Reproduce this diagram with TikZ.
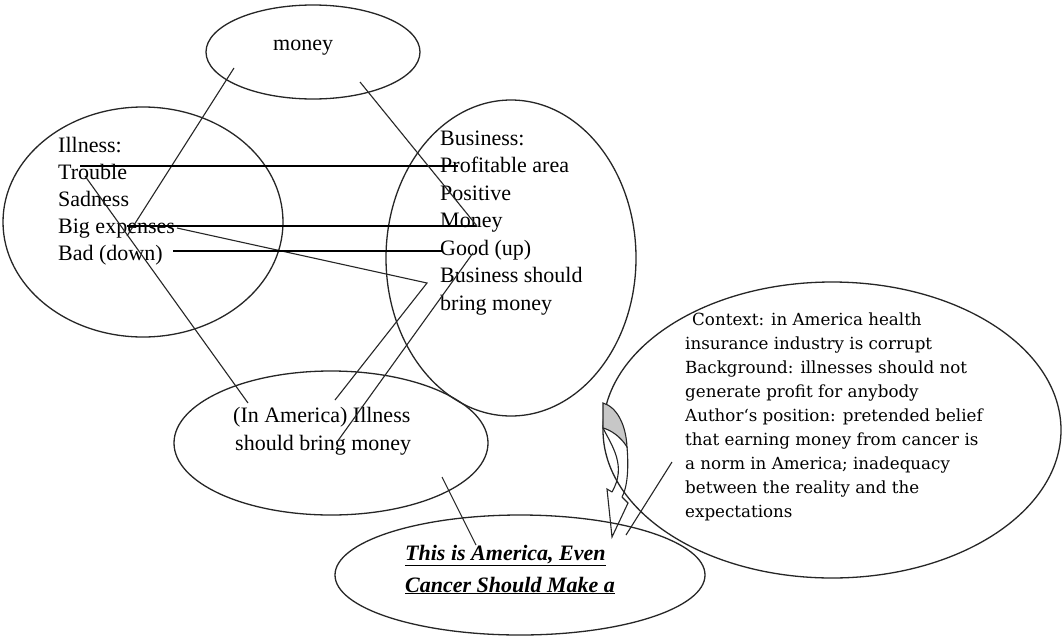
\documentclass[tikz,border=0pt]{standalone}
\usepackage{fontspec}
\setmainfont{Liberation Serif}
\newfontfamily\ctxfont{DejaVu Serif}
\usetikzlibrary{shapes.geometric}
\tikzset{
  oval/.style={ellipse, draw=black!85, line width=1.3pt, inner sep=0pt},
  link/.style={draw=black!85, line width=1.1pt},
  hline/.style={draw=black, line width=1.5pt},
  txt/.style={anchor=base west, inner sep=0pt, font=\fontsize{22}{27}\selectfont, text=black},
  ctx/.style={anchor=base west, inner sep=0pt, font=\ctxfont\fontsize{16.7}{24}\selectfont, text=black},
  ttl/.style={anchor=base west, inner sep=0pt, font=\fontsize{22}{27}\selectfont\bfseries\itshape, text=black},
  shade/.style={draw=black!85, line width=1.1pt, fill=black!22},
}
\begin{document}
\begin{tikzpicture}[x=1pt,y=-1pt]
\path[fill=white] (0,0) rectangle (1064,640);
\useasboundingbox (0,0) rectangle (1064,640);

% ovals
\node[oval, minimum width=214pt, minimum height=94pt] (moneyE) at (313,52) {};
\node[oval, minimum width=280pt, minimum height=230pt] (illE) at (143,222) {};
\node[oval, minimum width=250pt, minimum height=316pt] (busE) at (511,258) {};
\node[oval, minimum width=458pt, minimum height=296pt] (ctxE) at (832,430) {};
\node[oval, minimum width=314pt, minimum height=144pt] (amE) at (331,443) {};
\node[oval, minimum width=370pt, minimum height=120pt] (titleE) at (520,575) {};

% texts
\node[txt] (moneyT) at (273,50) {money};

\node[txt] (il1) at (58,152) {Illness:};
\node[txt] (il2) at (58,179) {Trouble};
\node[txt] (il3) at (58,206) {Sadness};
\node[txt] (il4) at (58,233) {Big expenses};
\node[txt] (il5) at (58,260) {Bad (down)};

\node[txt] (bu1) at (440,145) {Business:};
\node[txt] (bu2) at (440,172) {Profitable area};
\node[txt] (bu3) at (440,200) {Positive};
\node[txt] (bu4) at (440,227) {Money};
\node[txt] (bu5) at (440,255) {Good (up)};
\node[txt] (bu6) at (440,282) {Business should};
\node[txt] (bu7) at (440,310) {bring money};

\node[txt] (am1) at (233,422) {(In America) Illness};
\node[txt] (am2) at (235,450) {should bring money};

\node[ctx] (ct1) at (692,325) {Context: in America health};
\node[ctx] (ct2) at (685,349) {insurance industry is corrupt};
\node[ctx] (ct3) at (685,373) {Background: illnesses should not};
\node[ctx] (ct4) at (685,397) {generate profit for anybody};
\node[ctx] (ct5) at (685,421) {Author\textquoteleft s position: pretended belief};
\node[ctx] (ct6) at (685,445) {that earning money from cancer is};
\node[ctx] (ct7) at (685,469) {a norm in America; inadequacy};
\node[ctx] (ct8) at (685,493) {between the reality and the};
\node[ctx] (ct9) at (685,517) {expectations};

\node[ttl] (ti1) at (405,560) {\underline{This is America, Even}};
\node[ttl] (ti2) at (405,592) {\underline{Cancer Should Make a}};

% connector end points
\coordinate (m1) at (234,68);
\coordinate (j1) at (127,236);
\coordinate (t0) at (85,176);
\coordinate (t1) at (248,403);
\coordinate (h1a) at (80,166);
\coordinate (h1b) at (458,166);
\coordinate (h2a) at (127,226);
\coordinate (h2b) at (477,226);
\coordinate (m2) at (360,82);
\coordinate (d1) at (177,228);
\coordinate (v1) at (427,283);
\coordinate (v2) at (335,400);
\coordinate (h3a) at (173,251);
\coordinate (h3b) at (443,251);
\coordinate (g1) at (473,253);
\coordinate (g2) at (337,442);
\coordinate (b1) at (442,477);
\coordinate (b2) at (476,545);
\coordinate (c1) at (672,462);
\coordinate (c2) at (626,535);

% connectors
\draw[link] (m1) -- (j1);
\draw[link] (t0) -- (t1);
\draw[hline] (h1a) -- (h1b);
\draw[hline] (h2a) -- (h2b);
\draw[link] (m2) -- (h2b);
\draw[link] (d1) -- (v1) -- (v2);
\draw[hline] (h3a) -- (h3b);
\draw[link] (g1) -- (g2);
\draw[link] (b1) -- (b2);
\draw[link] (c1) -- (c2);

% curved block arrow
\coordinate (ca1) at (603,403);
\coordinate (ca2) at (627,447);
\coordinate (ca3) at (603,428);
\coordinate (ca4) at (612,492);
\coordinate (ca5) at (622,497);
\coordinate (cb1) at (607,489);
\coordinate (cb2) at (628,503);
\coordinate (ctip) at (612,537);
\draw[shade] (ca1) .. controls (617,407) and (626,425) .. (ca2)
  .. controls (621,437) and (611,430) .. (ca3) -- cycle;
\draw[link] (ca3) .. controls (612,446) and (627,466) .. (ca4);
\draw[link] (ca2) .. controls (629,470) and (627,488) .. (ca5);
\draw[link] (ca4) -- (cb1) -- (ctip) -- (cb2) -- (ca5);
\end{tikzpicture}
\end{document}
